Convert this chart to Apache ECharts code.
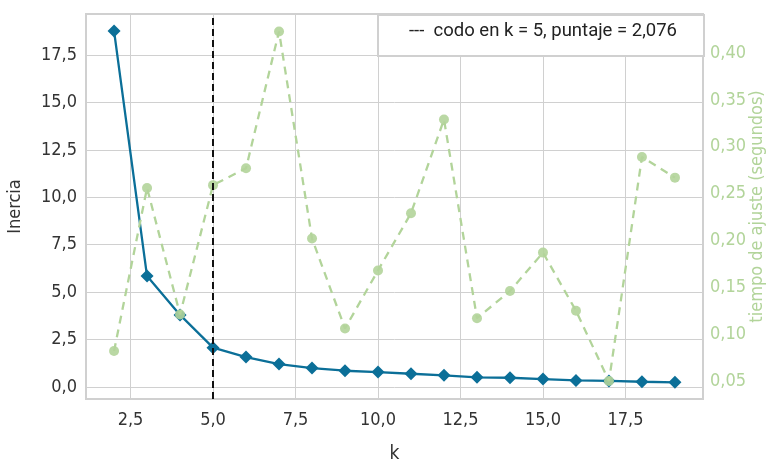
<!DOCTYPE html>
<html>
<head>
<meta charset="utf-8">
<script src="https://cdn.jsdelivr.net/npm/echarts@6/dist/echarts.min.js"></script>
<style>
html,body{margin:0;padding:0;background:#fff;}
#c{width:767px;height:462px;}
</style>
</head>
<body>
<div id="c"></div>
<script>
var kValues = [2,3,4,5,6,7,8,9,10,11,12,13,14,15,16,17,18,19];
var inercia = [18.77,5.85,3.80,2.076,1.58,1.21,1.00,0.86,0.79,0.70,0.62,0.51,0.49,0.42,0.35,0.32,0.28,0.25];
var tiempo = [0.082,0.256,0.121,0.259,0.277,0.423,0.202,0.106,0.168,0.229,0.329,0.117,0.146,0.187,0.125,0.050,0.289,0.267];
var xTicks = [2.5,5.0,7.5,10.0,12.5,15.0,17.5];
var leftTicks = [0,2.5,5.0,7.5,10.0,12.5,15.0,17.5];
var rightTicks = [0.05,0.10,0.15,0.20,0.25,0.30,0.35,0.40];
var elbowK = 5;
var legendText = '---  codo en k = 5, puntaje = 2,076';

var FONT = '"Liberation Sans Narrow", "DejaVu Sans Condensed", "Roboto Condensed", "Noto Sans Display", sans-serif';
var BLUE = '#0b6f98';
var GREEN = '#b2d49a';
var GRIDC = '#d0d0d0';

function fmt(d){ return function(v){ return Number(v).toFixed(d).replace('.', ','); }; }

var chart = echarts.init(document.getElementById('c'), null, {renderer:'canvas'});
chart.setOption({
  animation:false,
  backgroundColor:'#fff',
  grid:{left:86,right:64,top:14,bottom:63,outerBoundsMode:'none',containLabel:false,show:true,borderColor:GRIDC,borderWidth:2,backgroundColor:'transparent'},
  xAxis:{
    type:'value', min:1.15, max:19.85,
    name:'k', nameLocation:'middle', nameGap:46, nameMoveOverlap:false,
    nameTextStyle:{fontFamily:FONT,fontSize:19,color:'#333'},
    axisLine:{show:false}, axisTick:{show:false, customValues:xTicks},
    axisLabel:{customValues:xTicks, formatter:fmt(1), fontFamily:FONT, fontSize:18, color:'#333', margin:12},
    splitLine:{show:true, lineStyle:{color:GRIDC,width:1}}
  },
  yAxis:[{
    type:'value', min:-0.63, max:19.66,
    name:'Inercia', nameLocation:'middle', nameGap:62, nameRotate:90, nameMoveOverlap:false,
    nameTextStyle:{fontFamily:FONT,fontSize:18,color:'#333'},
    axisLine:{show:false}, axisTick:{show:false, customValues:leftTicks},
    axisLabel:{customValues:leftTicks, formatter:fmt(1), fontFamily:FONT, fontSize:18, color:'#333', margin:9},
    splitLine:{show:true, lineStyle:{color:GRIDC,width:1}}
  },{
    type:'value', position:'right', min:0.0308, max:0.4416,
    name:'tiempo de ajuste (segundos)', nameLocation:'middle', nameGap:45, nameRotate:90, nameMoveOverlap:false,
    nameTextStyle:{fontFamily:FONT,fontSize:18,color:GREEN},
    axisLine:{show:false}, axisTick:{show:false, customValues:rightTicks},
    axisLabel:{customValues:rightTicks, formatter:fmt(2), fontFamily:FONT, fontSize:18, color:GREEN, margin:7},
    splitLine:{show:false}
  }],
  series:[{
    type:'line', name:'inercia', yAxisIndex:0,
    data:kValues.map(function(k,i){return [k,inercia[i]];}),
    symbol:'diamond', symbolSize:13, showSymbol:true,
    lineStyle:{color:BLUE,width:2.3}, itemStyle:{color:BLUE},
    z:3,
    markLine:{
      silent:true, symbol:['none','none'], label:{show:false},
      lineStyle:{color:'#111',type:[7,4],width:2},
      data:[{xAxis:elbowK}]
    }
  },{
    type:'line', name:'tiempo', yAxisIndex:1,
    data:kValues.map(function(k,i){return [k,tiempo[i]];}),
    symbol:'circle', symbolSize:10, showSymbol:true,
    lineStyle:{color:GREEN,width:2.3,type:[8,6]}, itemStyle:{color:GREEN,opacity:0.9},
    z:4
  }],
  graphic:[{
    type:'rect', left:377, top:14, z:100,
    shape:{width:326,height:41},
    style:{fill:'#fff',stroke:GRIDC,lineWidth:2}
  },{
    type:'text', left:409, top:22, z:101,
    style:{text:legendText, font:'18.5px Roboto, sans-serif', fill:'#222'}
  }]
});
</script>
</body>
</html>
